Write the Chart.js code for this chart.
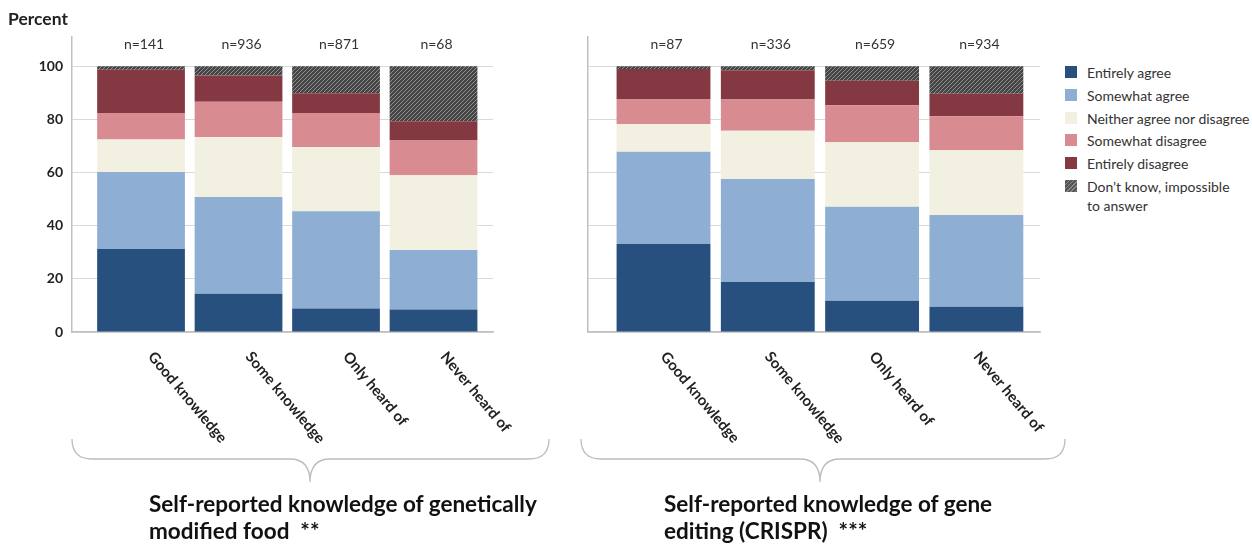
<!DOCTYPE html>
<html>
<head>
<meta charset="utf-8">
<script src="https://cdn.jsdelivr.net/npm/chart.js@4.4.0/dist/chart.umd.min.js"></script>
<style>
  html, body { margin: 0; padding: 0; background: #fff; }
  body { width: 1252px; height: 545px; position: relative; overflow: hidden; font-family: Lato, "Open Sans", sans-serif; color: #222; }
  canvas { position: absolute; top: 0; }
  #gmo { left: 0; }
  #crispr { left: 575px; }
  .ylabel { position: absolute; left: 8px; top: 8px; font-weight: bold; font-size: 17.5px; }
  #legend { position: absolute; left: 1065px; top: 63px; font-size: 14px; color: #333; }
  #legend .item { display: flex; align-items: flex-start; height: 22.8px; line-height: 19px; }
  #legend .sw { width: 12px; height: 12px; margin: 3px 10px 0 0; flex: none; }
  .title { position: absolute; font-weight: bold; font-size: 22.5px; line-height: 27px; color: #111; }
  svg { position: absolute; left: 0; top: 0; }
</style>
</head>
<body>
<canvas id="gmo" width="560" height="460"></canvas>
<canvas id="crispr" width="480" height="460"></canvas>
<div class="ylabel">Percent</div>
<div id="legend"></div>
<svg width="1252" height="545">
  <path d="M72,439 Q72,459 92,459 L290,459 Q310,459 310,482 Q310,459 330,459 L529,459 Q549,459 549,439" fill="none" stroke="#bdbdbd" stroke-width="1.3"/>
  <path d="M581,439 Q581,459 601,459 L800,459 Q820,459 820,482 Q820,459 840,459 L1045,459 Q1065,459 1065,439" fill="none" stroke="#bdbdbd" stroke-width="1.3"/>
</svg>
<div class="title" style="left:149px; top:490px;">Self-reported knowledge of genetically<br>modified food &nbsp;**</div>
<div class="title" style="left:664px; top:490px;">Self-reported knowledge of gene<br>editing (CRISPR) &nbsp;***</div>

<script>
// categories and series
const categories = ['Good knowledge', 'Some knowledge', 'Only heard of', 'Never heard of'];
const responses = ['Entirely agree', 'Somewhat agree', 'Neither agree nor disagree', 'Somewhat disagree', 'Entirely disagree', 'Don\u2019t know, impossible to answer'];
const yTicks = [0, 20, 40, 60, 80, 100];

// genetically modified food
const gmoN = [141, 936, 871, 68];
const gmoEntirelyAgree = [31.2, 14.4, 8.8, 8.5];
const gmoSomewhatAgree = [29.0, 36.4, 36.6, 22.4];
const gmoNeither = [12.2, 22.6, 24.2, 28.1];
const gmoSomewhatDisagree = [10.0, 13.2, 12.8, 13.1];
const gmoEntirelyDisagree = [16.3, 9.9, 7.4, 7.2];
const gmoDontKnow = [1.3, 3.5, 10.2, 20.7];

// gene editing (CRISPR)
const crisprN = [87, 336, 659, 934];
const crisprEntirelyAgree = [33.1, 18.8, 11.8, 9.5];
const crisprSomewhatAgree = [34.7, 38.8, 35.3, 34.5];
const crisprNeither = [10.4, 18.1, 24.3, 24.4];
const crisprSomewhatDisagree = [9.3, 11.8, 13.9, 12.8];
const crisprEntirelyDisagree = [11.5, 11.0, 9.2, 8.4];
const crisprDontKnow = [1.0, 1.5, 5.5, 10.4];

// hatched fill for "don't know"
function makeHatch() {
  const c = document.createElement('canvas');
  c.width = 4; c.height = 4;
  const g = c.getContext('2d');
  g.fillStyle = '#454545';
  g.fillRect(0, 0, 4, 4);
  g.strokeStyle = '#8f8f8f';
  g.lineWidth = 1;
  g.beginPath();
  g.moveTo(-1, 5); g.lineTo(5, -1);
  g.moveTo(-1, 1); g.lineTo(1, -1);
  g.moveTo(3, 5); g.lineTo(5, 3);
  g.stroke();
  return g.createPattern(c, 'repeat');
}
const hatch = makeHatch();
const colors = ['#27507f', '#8eafd3', '#f2f0e1', '#d88b91', '#843841', hatch];

// legend
const legendEl = document.getElementById('legend');
const legendLabels = ['Entirely agree', 'Somewhat agree', 'Neither agree nor disagree', 'Somewhat disagree', 'Entirely disagree', 'Don\u2019t know, impossible<br>to answer'];
legendLabels.forEach((txt, i) => {
  const item = document.createElement('div');
  item.className = 'item';
  const sw = document.createElement('span');
  sw.className = 'sw';
  sw.style.background = i === 5
    ? 'repeating-linear-gradient(135deg, #8a8a8a 0 1px, #555 1px 3px)'
    : colors[i];
  const lab = document.createElement('span');
  lab.innerHTML = txt;
  item.appendChild(sw);
  item.appendChild(lab);
  legendEl.appendChild(item);
});

// n= labels above bars and rotated category labels underneath
const labelsPlugin = {
  id: 'labelsPlugin',
  afterDraw(chart, args, opts) {
    const ctx = chart.ctx;
    const xs = chart.scales.x;
    ctx.save();
    ctx.fillStyle = '#333';
    ctx.font = '14px Lato, "Open Sans", sans-serif';
    ctx.textAlign = 'center';
    ctx.textBaseline = 'middle';
    opts.counts.forEach((n, i) => {
      ctx.fillText('n=' + n, xs.getPixelForValue(i) + 3, 44);
    });
    ctx.font = 'bold 15px Lato, "Open Sans", sans-serif';
    ctx.fillStyle = '#222';
    ctx.textAlign = 'left';
    categories.forEach((c, i) => {
      ctx.save();
      ctx.translate(xs.getPixelForValue(i) + opts.labelShift, 354);
      ctx.rotate(50 * Math.PI / 180);
      ctx.fillText(c, 0, 0);
      ctx.restore();
    });
    ctx.restore();
  }
};

function buildChart(id, series, counts, xMin, showY, yWidth, rightPad, labelShift) {
  const datasets = series.map((vals, k) => ({
    label: responses[k],
    data: vals.map((v, i) => ({ x: i, y: v })),
    backgroundColor: colors[k],
    borderWidth: 0,
    barPercentage: 0.9,
    categoryPercentage: 1.0
  }));
  return new Chart(document.getElementById(id), {
    type: 'bar',
    data: { datasets },
    plugins: [labelsPlugin],
    options: {
      responsive: false,
      animation: false,
      layout: { padding: { top: 37, right: rightPad, left: 0, bottom: 0 } },
      plugins: {
        legend: { display: false },
        tooltip: { enabled: false },
        labelsPlugin: { counts, labelShift }
      },
      scales: {
        x: {
          type: 'linear',
          stacked: true,
          offset: false,
          min: xMin,
          max: 3.61,
          afterBuildTicks: (s) => { s.ticks = categories.map((c, i) => ({ value: i })); },
          grid: { display: false },
          border: { color: '#bfbfbf', width: 1.5 },
          ticks: { display: false },
          afterFit: (s) => { s.height = 460 - 332; }
        },
        y: {
          stacked: true,
          min: 0,
          max: 111,
          afterBuildTicks: (s) => { s.ticks = yTicks.map(v => ({ value: v })); },
          ticks: {
            display: showY,
            padding: 9,
            color: '#222',
            font: { family: 'Lato, "Open Sans", sans-serif', size: 14, weight: 'bold' }
          },
          grid: { color: '#d9d9d9', drawTicks: false },
          border: { color: '#bfbfbf', width: 1.5 },
          afterFit: (s) => { s.width = yWidth; }
        }
      }
    }
  });
}

buildChart('gmo',
  [gmoEntirelyAgree, gmoSomewhatAgree, gmoNeither, gmoSomewhatDisagree, gmoEntirelyDisagree, gmoDontKnow],
  gmoN, -0.708, true, 72, 560 - 493, 10);

buildChart('crispr',
  [crisprEntirelyAgree, crisprSomewhatAgree, crisprNeither, crisprSomewhatDisagree, crisprEntirelyDisagree, crisprDontKnow],
  crisprN, -0.724, false, 13, 480 - 465, 0);
</script>
</body>
</html>
